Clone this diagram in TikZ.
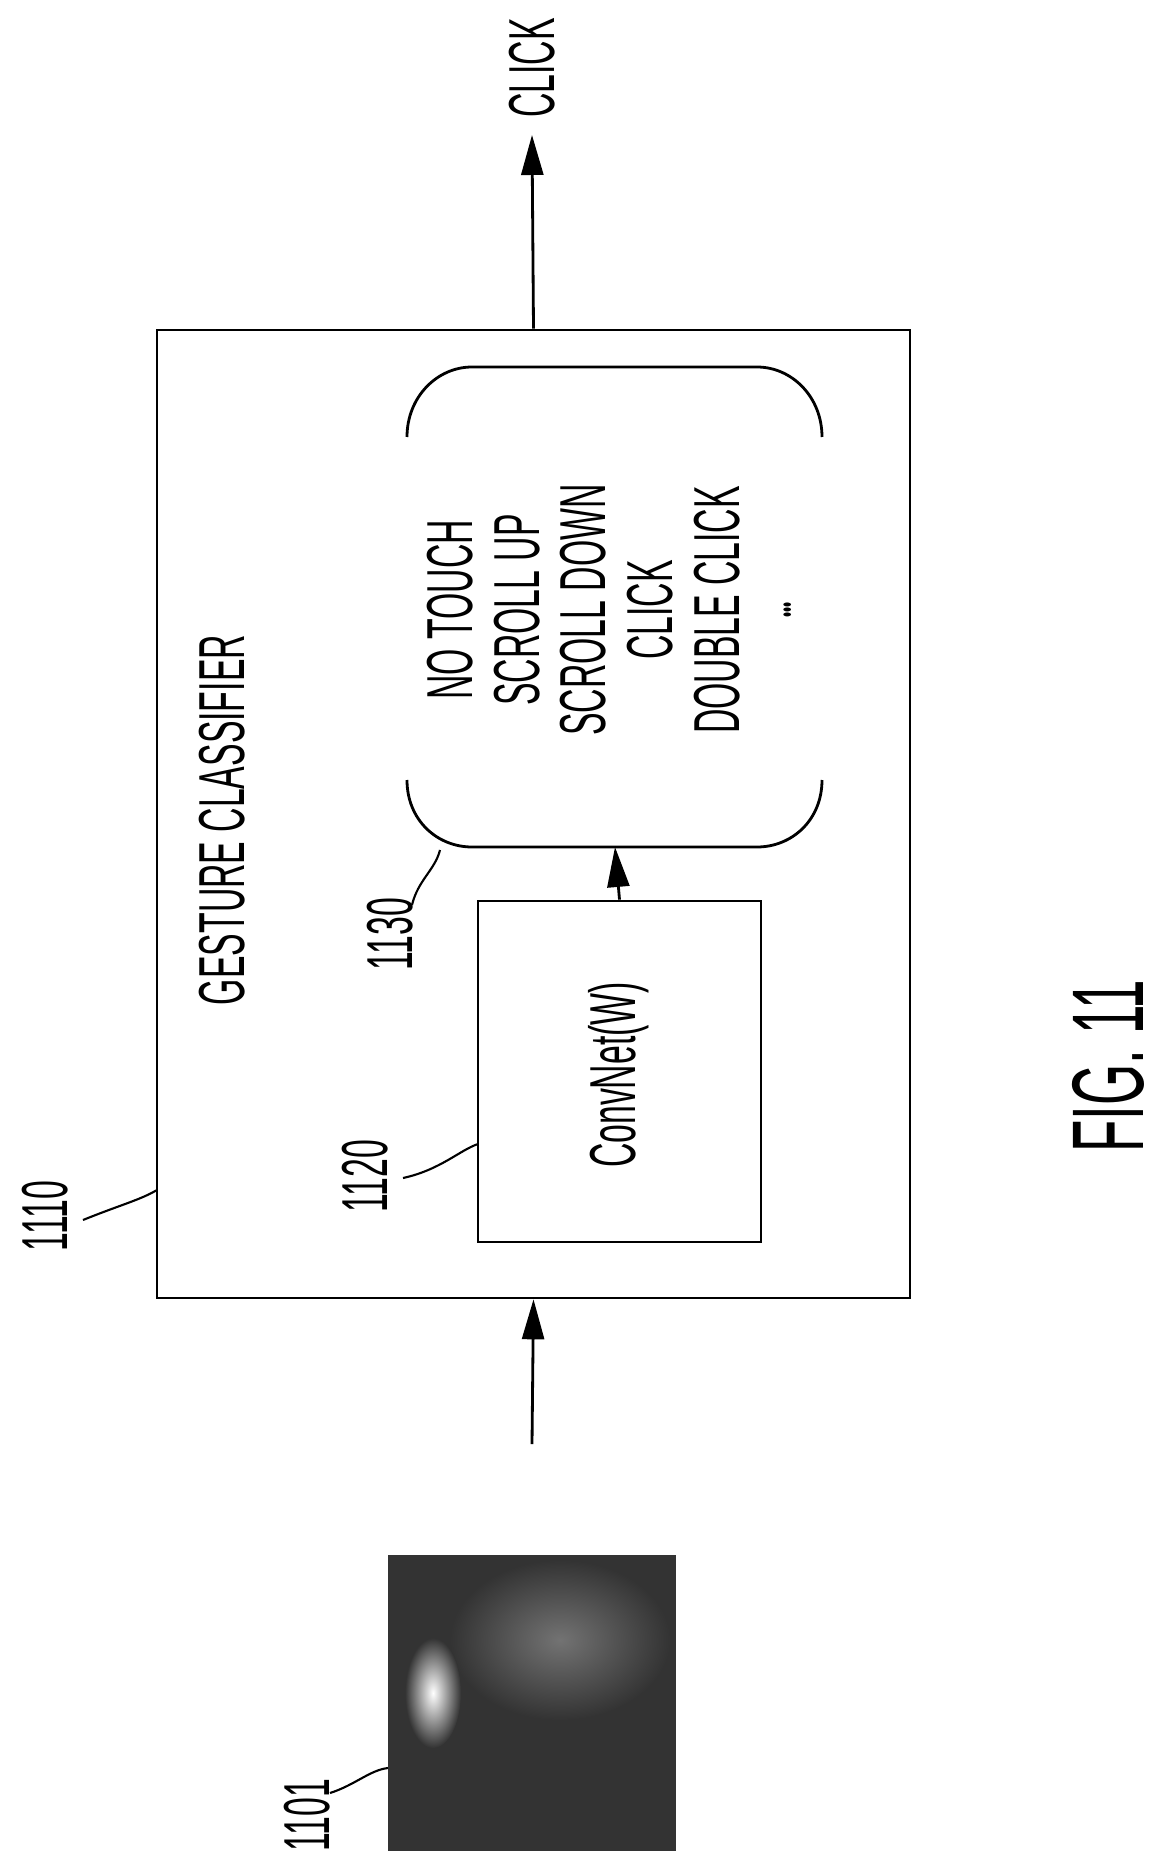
\documentclass[tikz,border=0pt]{standalone}
\usepackage{fontspec}
\setmainfont{Liberation Sans}[FakeStretch=0.52]
\usetikzlibrary{calc,arrows.meta,shapes}
\tikzset {>={Triangle[length=8mm,width=4.4mm]}}
\tikzset{
  box/.style={draw,line width=1.6pt,rectangle,inner sep=0pt},
  lbl/.style={rotate=90,inner sep=0pt,font=\fontsize{37}{37}\selectfont},
  lead/.style={line width=1.2pt}}

\begin{document}
\begin{tikzpicture}[x=0.02cm,y=-0.02cm]
\useasboundingbox (0,0) rectangle (1162,1871);
% boxes
\node[box,minimum width=15.06cm,minimum height=19.36cm] (clf) at (533.5,814) {};
\node[box,minimum width=5.66cm,minimum height=6.82cm] (cnn) at (619.5,1071.5) {};
\node[lbl] (cnntxt) at (619,1075) {ConvNet(W)};
\node[lbl,anchor=center] (clftxt) at (222,820) {GESTURE CLASSIFIER};
% class list
\draw[line width=1.6pt] (407,437) .. controls (407,397) and (437,367) .. (472,367) -- (757,367)
  .. controls (792,367) and (822,397) .. (822,437);
\draw[line width=1.6pt] (407,780) .. controls (407,820) and (437,847) .. (472,847) -- (757,847)
  .. controls (792,847) and (822,820) .. (822,780);
\coordinate (lst) at (615,847);
\foreach \t/\x in {NO TOUCH/450,SCROLL UP/517,SCROLL DOWN/583,CLICK/650,DOUBLE CLICK/717}
  \node[lbl] at (\x,610) {\t};
\node[rotate=90,inner sep=0pt,font=\fontsize{16}{16}\selectfont] (dots) at (790,610) {\textbullet\textbullet\textbullet};
% input image
\fill[black!80] (388,1555) rectangle (676,1851);
\shade[inner color=black!55,outer color=black!80] (560,1640) ellipse[x radius=110,y radius=80];
\shade[inner color=white,outer color=black!80] (433,1693) ellipse[x radius=28,y radius=55];
\coordinate (img) at (532,1555);
\coordinate (img1) at (388,1768);
\coordinate (out) at (532,135);
\node[lbl] (click) at (532,68) {CLICK};
% arrows
\draw[->,line width=1.6pt] ($(img)+(0,-111)$) -- (clf.south);
\draw[->,line width=1.6pt] (cnn.north) -- (lst);
\draw[->,line width=1.6pt] (clf.north) -- (out);
% labels
\node[lbl] (n1110) at (45,1216) {1110};
\draw[lead] (83,1220) .. controls (120,1205) and (140,1200) .. (157,1190);
\node[lbl] (n1120) at (365,1176) {1120};
\draw[lead] (403,1178) .. controls (440,1170) and (460,1150) .. (478,1144);
\node[lbl] (n1130) at (390,934) {1130};
\draw[lead] (412,905) .. controls (418,880) and (435,870) .. (440,850);
\node[lbl] (n1101) at (307,1815) {1101};
\draw[lead] (330,1793) .. controls (355,1785) and (370,1770) .. (img1);
\node[rotate=90,inner sep=0pt,font=\fontsize{58}{58}\selectfont] (fig) at (1108,1066) {FIG. 11};
\end{tikzpicture}
\end{document}
